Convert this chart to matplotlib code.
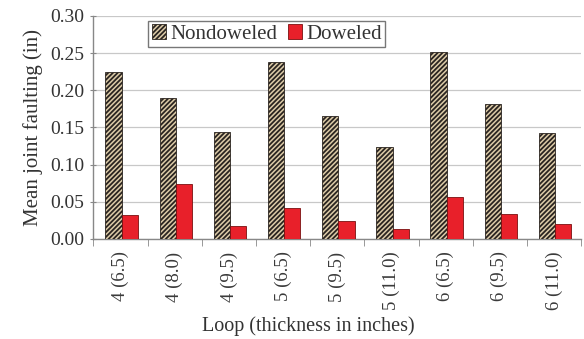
import matplotlib
matplotlib.use("Agg")
import matplotlib.pyplot as plt
import numpy as np

categories = ["4 (6.5)", "4 (8.0)", "4 (9.5)", "5 (6.5)", "5 (9.5)", "5 (11.0)", "6 (6.5)", "6 (9.5)", "6 (11.0)"]
nondoweled = [0.224, 0.190, 0.144, 0.238, 0.165, 0.124, 0.252, 0.181, 0.142]
doweled = [0.032, 0.074, 0.017, 0.042, 0.024, 0.014, 0.057, 0.033, 0.020]
yticks = [0.00, 0.05, 0.10, 0.15, 0.20, 0.25, 0.30]

plt.rcParams['font.family'] = ['Liberation Serif', 'DejaVu Serif']
plt.rcParams['hatch.linewidth'] = 1.3

fig = plt.figure(figsize=(5.84, 3.39), dpi=100)
ax = fig.add_axes([0.160, 0.295, 0.835, 0.658])

x = np.arange(len(categories))
w = 0.3
ax.bar(x - 0.13, nondoweled, w, facecolor="#dccba8", edgecolor="#2a2420",
       hatch="///////", linewidth=0.6, label="Nondoweled", zorder=3)
ax.bar(x + 0.17, doweled, w, facecolor="#e8202a", edgecolor="#7a1010",
       linewidth=0.6, label="Doweled", zorder=3)

ax.set_xlim(-0.5, len(categories) - 0.5)
ax.set_ylim(0, 0.30)
ax.set_yticks(yticks)
ax.set_yticklabels([f"{v:.2f}" for v in yticks], fontsize=14, color="#333333")
ax.set_xticks(x)
ax.set_xticklabels(categories, rotation=90, fontsize=13.5, color="#3a3a3a", va="top")
ax.set_xticks(np.arange(-0.5, len(categories)), minor=True)
ax.tick_params(axis="x", which="major", length=0, pad=9)
ax.tick_params(axis="x", which="minor", length=5, direction="out", color="#888888")
ax.tick_params(axis="y", length=5, direction="inout", color="#888888", pad=4)

ax.yaxis.grid(True, color="#c8c8c8", linewidth=0.9, zorder=0)
for s in ["top", "right"]:
    ax.spines[s].set_visible(False)
for s in ["left", "bottom"]:
    ax.spines[s].set_color("#888888")
    ax.spines[s].set_linewidth(1.0)

ax.set_ylabel("Mean joint faulting (in)", fontsize=15, color="#333333", labelpad=5)
ax.set_xlabel("Loop (thickness in inches)", fontsize=14.5, color="#333333")
ax.xaxis.set_label_coords(0.44, -0.345)

leg = ax.legend(loc="upper left", bbox_to_anchor=(0.10, 1.005), ncol=2, fontsize=15,
                frameon=True, fancybox=False, edgecolor="#555555",
                handlelength=0.7, handleheight=0.7, handletextpad=0.2,
                columnspacing=0.5, borderpad=0.15, borderaxespad=0.3)
leg.get_frame().set_linewidth(1.0)
for t in leg.get_texts():
    t.set_color("#333333")

fig.savefig("out.png", dpi=100, facecolor="white")
